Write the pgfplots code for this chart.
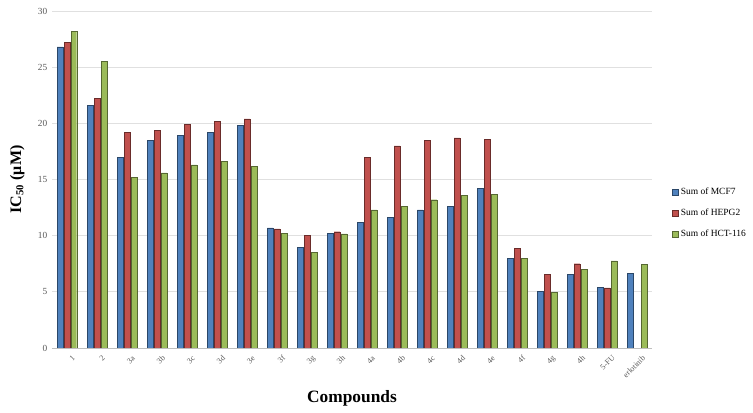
\documentclass[border=0pt]{standalone}
\usepackage{pgfplots}
\pgfplotsset{compat=1.18}
\usepackage{pgfplotstable}
\usepackage{fontspec}
\setmainfont{Liberation Serif}
\definecolor{cb}{HTML}{4F81BD}
\definecolor{cr}{HTML}{C0504D}
\definecolor{cg}{HTML}{9BBB59}
\definecolor{tk}{HTML}{595959}
\pgfplotstableread{
x mcf hep hct
0 26.8 27.2 28.2
1 21.6 22.2 25.5
2 17.0 19.2 15.2
3 18.5 19.4 15.6
4 18.9 19.9 16.3
5 19.2 20.2 16.6
6 19.8 20.4 16.2
7 10.7 10.6 10.2
8 8.95 10.0 8.5
9 10.2 10.35 10.15
10 11.2 17.0 12.3
11 11.6 18.0 12.6
12 12.3 18.5 13.2
13 12.6 18.7 13.6
14 14.2 18.6 13.7
15 8.0 8.9 8.0
16 5.07 6.56 4.96
17 6.56 7.5 7.02
18 5.37 5.35 7.75
19 6.65 nan 7.45
}\datatable
\begin{document}
\begin{tikzpicture}
\path (-39pt,-48.75pt) rectangle (525.75pt,261pt);
\begin{axis}[
  at={(0,0)}, anchor=south west,
  scale only axis, width=450pt, height=252.75pt,
  ymin=0, ymax=30, ytick={0,5,...,30},
  xmin=-0.5, xmax=19.5,
  xtick=data,
  xticklabels={1,2,3a,3b,3c,3d,3e,3f,3g,3h,4a,4b,4c,4d,4e,4f,4g,4h,5-FU,erlotinib},
  xticklabel style={rotate=45, anchor=north east, font=\fontsize{6}{7}\selectfont, text=tk, inner sep=0pt, xshift=-1pt, yshift=-6pt},
  yticklabel style={font=\fontsize{7}{8}\selectfont, text=tk},
  /pgf/number format/assume math mode=true,
  major tick length=0pt,
  axis line style={draw=none},
  axis x line*=bottom, axis y line*=left,
  ymajorgrids, grid style={draw=black!12, line width=0.6pt},
  extra y ticks={0}, extra y tick labels={}, extra y tick style={grid style={draw=black!25}},
  ybar, bar width=0.19,
  xlabel={\textbf{Compounds}},
  xlabel style={at={(axis description cs:0.5,-0.148)}, anchor=center, font=\fontsize{13}{15}\selectfont},
  ylabel={\textbf{IC\textsubscript{50} (μM)}},
  ylabel style={at={(axis description cs:-0.058,0.5)}, anchor=center, font=\fontsize{12}{14}\selectfont},
  legend style={at={(1.03,0.40)}, anchor=west, draw=none, font=\fontsize{7.1}{9}\selectfont, row sep=5pt, cells={anchor=west}, inner xsep=1pt},
  legend image code/.code={\fill[#1] (0pt,-2.3pt) rectangle (4.6pt,2.3pt);},
]
\addplot[fill=cb, draw=cb!55!black, line width=0.3pt, bar shift=-0.23] table[x=x,y=mcf] {\datatable};
\addplot[fill=cr, draw=cr!55!black, line width=0.3pt, bar shift=0] table[x=x,y=hep] {\datatable};
\addplot[fill=cg, draw=cg!55!black, line width=0.3pt, bar shift=0.23] table[x=x,y=hct] {\datatable};
\legend{Sum of MCF7, Sum of HEPG2, Sum of HCT-116}
\end{axis}
\end{tikzpicture}
\end{document}
